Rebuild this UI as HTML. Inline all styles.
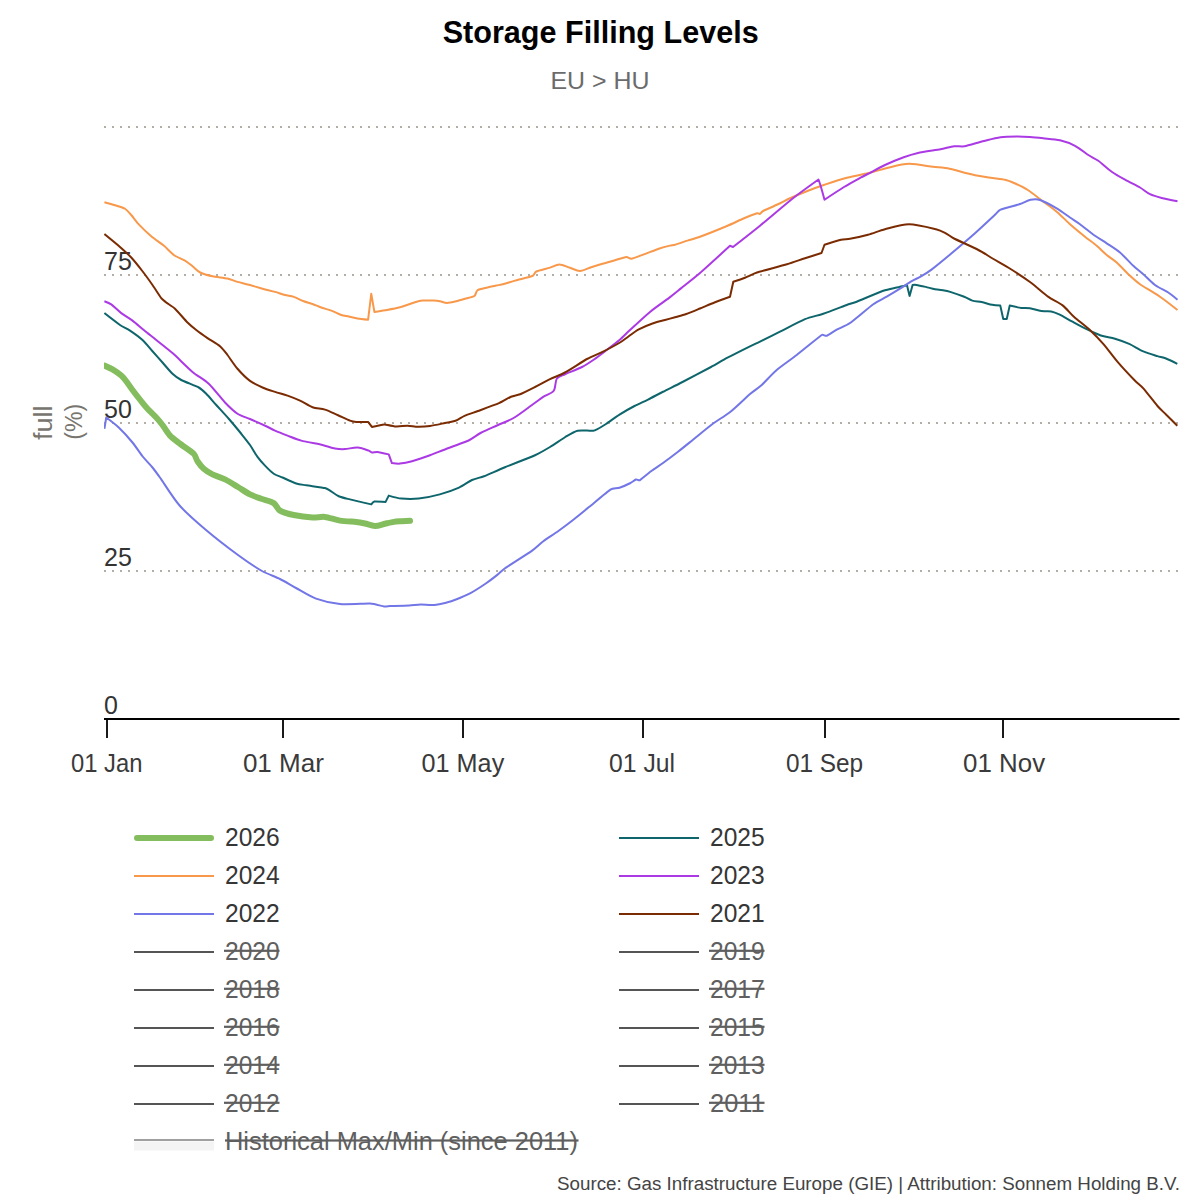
<!DOCTYPE html>
<html><head><meta charset="utf-8"><title>Storage Filling Levels</title>
<style>
html,body{margin:0;padding:0;background:#fff;}
svg{display:block;}
text{font-family:"Liberation Sans", sans-serif;}
</style></head><body>
<svg width="1200" height="1200" viewBox="0 0 1200 1200">
<rect width="1200" height="1200" fill="#fff"/>

<text x="600.7" y="43.4" text-anchor="middle" font-size="32" font-weight="bold" fill="#000" textLength="316" lengthAdjust="spacingAndGlyphs">Storage Filling Levels</text>
<text x="600" y="89.3" text-anchor="middle" font-size="24" fill="#6b6b6b" textLength="99" lengthAdjust="spacingAndGlyphs">EU &gt; HU</text>
<line x1="104" y1="127" x2="1178" y2="127" stroke="#b3afa7" stroke-width="2" stroke-dasharray="2 6"/>
<line x1="104" y1="275" x2="1178" y2="275" stroke="#b3afa7" stroke-width="2" stroke-dasharray="2 6"/>
<line x1="104" y1="423" x2="1178" y2="423" stroke="#b3afa7" stroke-width="2" stroke-dasharray="2 6"/>
<line x1="104" y1="571" x2="1178" y2="571" stroke="#b3afa7" stroke-width="2" stroke-dasharray="2 6"/>
<text x="104" y="713.5" font-size="25" fill="#333">0</text>
<text x="104" y="565.75" font-size="25" fill="#333">25</text>
<text x="104" y="417.8" font-size="25" fill="#333">50</text>
<text x="104" y="270" font-size="25" fill="#333">75</text>
<g transform="translate(44,422.75) rotate(-90)"><text x="0" y="8" text-anchor="middle" font-size="25" fill="#77756e" textLength="34.5" lengthAdjust="spacingAndGlyphs">full</text></g>
<g transform="translate(74,421.75) rotate(-90)"><text x="0" y="7.5" text-anchor="middle" font-size="23" fill="#77756e" textLength="35.9" lengthAdjust="spacingAndGlyphs">(%)</text></g>
<defs><clipPath id="plotclip"><rect x="104" y="100" width="1075" height="620"/></clipPath></defs>
<g clip-path="url(#plotclip)">
<path d="M104.4,365.6 C104.40,365.60 110.19,368.03 112.5,369.4 C114.81,370.77 119.54,374.12 121.25,375.6 C122.96,377.08 124.86,379.47 126.25,381.25 C127.64,383.03 130.56,387.42 132.5,390 C134.44,392.58 139.42,398.96 141.25,401.25 C143.08,403.54 145.51,406.60 147.5,408.75 C149.49,410.90 154.26,415.35 156.25,417.5 C158.24,419.65 160.73,422.67 162.5,425 C164.27,427.33 167.36,432.77 170,435.6 C172.64,438.43 176.92,441.40 180,443.75 C183.08,446.10 191.97,451.97 193.75,453.75 C195.53,455.53 196.10,459.16 197.5,461.25 C198.90,463.34 201.55,466.82 203.75,468.75 C205.95,470.68 209.71,473.00 212.5,474.4 C215.29,475.80 221.38,477.61 225,479.4 C228.62,481.19 234.37,484.82 238,487 C241.63,489.18 246.77,492.77 250,494.4 C253.23,496.03 257.85,497.51 261.25,498.75 C264.65,499.99 271.27,501.54 273.75,503.1 C276.23,504.66 277.48,509.10 280,510.6 C282.52,512.10 289.51,514.10 293.75,515 C297.99,515.90 308.75,517.27 312.5,517.5 C316.25,517.73 321.27,516.48 325,516.9 C328.73,517.32 335.42,519.87 340,520.6 C344.58,521.33 353.60,521.59 356.25,521.9 C358.90,522.21 362.39,522.93 365,523.5 C367.61,524.07 371.93,525.96 375,526 C378.07,526.04 382.38,524.32 385,523.75 C387.62,523.18 391.89,522.20 393.75,521.9 C395.61,521.60 398.12,521.43 400,521.3 C401.88,521.17 410.00,520.80 410,520.8" fill="none" stroke="#84bd5e" stroke-width="6" stroke-linejoin="round" stroke-linecap="round"/>
<path d="M104.4,313.1 C104.40,313.10 117.16,323.06 120,325 C122.84,326.94 127.14,328.69 130,330.6 C132.86,332.51 139.17,336.95 142.5,340 C145.83,343.05 149.50,347.88 152.5,351.25 C155.50,354.62 159.50,359.12 162.5,362.5 C165.50,365.88 170.14,371.55 172.5,373.75 C174.86,375.95 178.39,378.50 181.25,380 C184.11,381.50 196.18,386.09 198.75,387.5 C201.32,388.91 204.18,391.68 206.25,393.75 C208.32,395.82 213.23,401.64 216.25,405 C219.27,408.36 225.09,414.54 228.75,418.75 C232.41,422.96 238.56,430.43 241.25,433.75 C243.94,437.07 247.58,441.55 250,445 C252.42,448.45 255.47,454.11 257.5,456.9 C259.53,459.69 262.61,463.12 265,465.6 C267.39,468.08 271.39,472.14 273.75,473.75 C276.11,475.36 279.88,476.36 282.5,477.5 C285.12,478.64 293.35,482.56 296.25,483.5 C299.15,484.44 303.24,484.77 306.25,485.25 C309.26,485.73 323.36,487.73 325,488.1 C326.64,488.47 328.56,489.74 330,490.6 C331.44,491.46 335.89,494.99 338.75,496.25 C341.61,497.51 346.60,498.55 350,499.4 C353.40,500.25 371.25,504.40 371.25,504.4 C371.25,504.40 373.13,501.72 374.4,501.5 C375.67,501.28 385.60,501.90 385.6,501.9 C385.60,501.90 388.75,495.60 388.75,495.6 C388.75,495.60 397.59,498.21 401.5,498.6 C405.41,498.99 413.61,499.16 418.75,498.6 C423.89,498.04 433.91,496.01 439.8,494.4 C445.69,492.79 454.88,489.44 459,487.6 C463.12,485.76 468.57,481.56 472,480 C475.43,478.44 480.48,477.61 484,476.25 C487.52,474.89 498.66,469.86 505,467.25 C511.34,464.64 530.32,457.36 535,455.25 C539.68,453.14 545.60,449.64 550,447 C554.40,444.36 561.36,439.40 565,437.25 C568.64,435.10 574.02,431.67 577.5,430.75 C580.98,429.83 587.92,430.79 589.5,430.75 C591.08,430.71 593.29,430.90 594.75,430.3 C596.21,429.70 602.74,426.08 606,424 C609.26,421.92 615.32,417.19 619.5,414.55 C623.68,411.91 630.53,408.09 634.5,406 C638.47,403.91 643.99,401.56 648,399.55 C652.01,397.54 658.48,394.05 663,391.75 C667.52,389.45 676.69,385.00 682.5,382 C688.31,379.00 706.00,369.70 711,367 C716.00,364.30 722.48,360.36 727.5,357.7 C732.52,355.04 747.04,347.76 750,346.3 C752.96,344.84 757.03,343.15 760,341.7 C762.97,340.25 774.00,334.70 780,331.7 C786.00,328.70 799.71,321.40 805,319.2 C810.29,317.00 817.87,315.55 823.3,313.7 C828.73,311.85 843.73,306.07 846.7,305 C849.67,303.93 853.75,302.84 856.7,301.7 C859.65,300.56 879.40,292.19 883.3,290.8 C887.20,289.41 893.62,288.23 896.7,287.5 C899.78,286.77 907.00,285.20 907,285.2 C907.00,285.20 909.60,295.90 909.6,295.9 C909.60,295.90 912.60,284.90 912.6,284.9 C912.60,284.90 915.20,284.73 916.3,284.9 C917.40,285.07 922.90,286.25 925.7,286.9 C928.50,287.55 932.24,288.73 935,289.25 C937.76,289.77 942.50,290.09 944.3,290.4 C946.10,290.71 948.46,291.34 950.2,291.9 C951.94,292.46 961.70,295.82 964.2,296.8 C966.70,297.78 969.73,299.82 972.3,300.6 C974.87,301.38 978.91,301.51 981.7,302.1 C984.49,302.69 989.80,304.35 992.2,304.8 C994.60,305.25 1000.30,305.60 1000.3,305.6 C1000.30,305.60 1003.25,319.00 1003.25,319 C1003.25,319.00 1006.75,319.00 1006.75,319 C1006.75,319.00 1009.70,305.60 1009.7,305.6 C1009.70,305.60 1018.71,307.56 1021.3,307.9 C1023.89,308.24 1027.42,307.89 1030,308.3 C1032.58,308.71 1038.34,310.67 1041.3,311.1 C1044.26,311.53 1048.57,310.89 1051.25,311.4 C1053.93,311.91 1057.30,313.41 1059.75,314.6 C1062.20,315.79 1068.65,319.61 1072.5,321.7 C1076.35,323.79 1082.54,327.18 1086.7,329.2 C1090.86,331.22 1096.66,334.06 1100.8,335.45 C1104.94,336.84 1110.81,337.45 1115,338.7 C1119.19,339.95 1125.06,342.04 1129.2,343.9 C1133.34,345.76 1139.18,349.68 1143.3,351.45 C1147.42,353.22 1154.97,355.31 1157.5,356.1 C1160.03,356.89 1163.53,357.54 1166,358.5 C1168.47,359.46 1177.30,363.80 1177.3,363.8" fill="none" stroke="#0e666c" stroke-width="2" stroke-linejoin="round" stroke-linecap="butt"/>
<path d="M104.4,202.25 C104.40,202.25 111.97,204.29 115,205.25 C118.03,206.21 122.73,207.39 125,208.75 C127.27,210.11 129.50,213.01 131.25,215 C133.00,216.99 136.28,221.77 138.75,224.4 C141.22,227.03 147.68,233.22 151.25,236.25 C154.82,239.28 160.59,242.96 163.75,245.6 C166.91,248.24 170.67,252.83 173.75,255 C176.83,257.17 182.58,259.15 185,260.6 C187.42,262.05 190.28,264.52 192.5,266.25 C194.72,267.98 197.81,271.36 200.6,272.75 C203.39,274.14 208.86,275.47 212.5,276.25 C216.14,277.03 224.41,277.80 227.5,278.5 C230.59,279.20 234.46,281.02 237.5,281.9 C240.54,282.78 246.27,283.98 250,285 C253.73,286.02 258.77,287.72 262.5,288.75 C266.23,289.78 271.97,291.06 275,291.9 C278.03,292.74 282.40,294.31 285,295 C287.60,295.69 291.20,296.05 293.75,296.9 C296.30,297.75 301.18,300.28 303.75,301.25 C306.32,302.22 309.91,303.07 312.5,304 C315.09,304.93 318.58,306.56 321.25,307.5 C323.92,308.44 328.31,309.50 331.25,310.6 C334.19,311.70 339.08,314.27 341.25,315 C343.42,315.73 346.51,316.02 348.75,316.5 C350.99,316.98 354.84,318.05 357.5,318.5 C360.16,318.95 368.10,319.75 368.1,319.75 C368.10,319.75 371.25,293.75 371.25,293.75 C371.25,293.75 374.40,311.90 374.4,311.9 C374.40,311.90 381.83,310.83 385,310.25 C388.17,309.67 395.57,308.43 400,307.25 C404.43,306.07 412.79,302.90 415,302.25 C417.21,301.60 420.21,300.80 422.5,300.6 C424.79,300.40 431.87,300.53 433.75,300.6 C435.63,300.67 438.14,300.93 440,301.25 C441.86,301.57 444.77,302.90 446.9,302.9 C449.03,302.90 453.59,301.86 456.25,301.25 C458.91,300.64 462.38,299.51 465,298.75 C467.62,297.99 472.78,297.10 474.4,296 C476.02,294.90 475.86,291.32 477.5,290.25 C479.14,289.18 484.89,288.15 487.5,287.5 C490.11,286.85 494.00,286.08 496.25,285.6 C498.50,285.12 501.53,284.59 503.75,284 C505.97,283.41 511.60,281.55 515,280.6 C518.40,279.65 530.88,276.69 532.5,276 C534.12,275.31 534.67,272.26 536.25,271.5 C537.83,270.74 547.15,268.47 550,267.6 C552.85,266.73 556.42,264.38 559.4,264.4 C562.38,264.42 567.00,266.79 570,267.75 C573.00,268.71 576.85,271.07 580,271 C583.15,270.93 587.89,268.33 591.25,267.25 C594.61,266.17 599.52,264.63 602.5,263.75 C605.48,262.87 609.51,261.86 612.5,261 C615.49,260.14 624.66,257.09 626.25,256.9 C627.84,256.71 629.67,258.98 631.25,258.75 C632.83,258.52 640.02,255.76 643.75,254.4 C647.48,253.04 655.43,249.86 658.75,248.75 C662.07,247.64 668.52,245.96 670,245.6 C671.48,245.24 673.54,245.17 675,244.75 C676.46,244.33 683.76,241.80 687.5,240.6 C691.24,239.40 696.32,238.11 700,236.75 C703.68,235.39 721.99,228.10 727,226 C732.01,223.90 739.50,220.20 743.5,218.5 C747.50,216.80 756.10,213.49 757,213.25 C757.90,213.01 760.00,214.00 760,214 C760.00,214.00 761.88,211.61 763,211 C764.12,210.39 774.36,205.97 778,204.25 C781.64,202.53 786.33,199.90 790,198.25 C793.67,196.60 803.10,192.67 808,190.75 C812.90,188.83 819.51,186.42 824.5,184.75 C829.49,183.08 840.18,179.49 847,177.7 C853.82,175.91 864.55,174.13 870,172.8 C875.45,171.47 882.53,168.96 888,167.7 C893.47,166.44 902.59,163.93 909,163.8 C915.41,163.67 928.05,166.20 933,166.8 C937.95,167.40 944.61,167.77 949.5,168.75 C954.39,169.73 967.26,173.67 975,175.2 C982.74,176.73 1002.18,179.14 1005,179.7 C1007.82,180.26 1011.37,181.83 1014,183 C1016.63,184.17 1023.67,187.39 1027.5,189.75 C1031.33,192.11 1038.35,197.88 1039.5,198.75 C1040.65,199.62 1042.15,200.83 1043.3,201.7 C1044.45,202.57 1052.86,208.47 1056.7,211.7 C1060.54,214.93 1065.90,220.57 1070,224.2 C1074.10,227.83 1081.54,233.90 1085,236.7 C1088.46,239.50 1093.58,243.17 1096.7,245.8 C1099.82,248.43 1103.82,252.60 1106.7,255 C1109.58,257.40 1113.90,260.00 1116.7,262.5 C1119.50,265.00 1127.13,273.13 1130,275.8 C1132.87,278.47 1136.79,281.96 1140,284.2 C1143.21,286.44 1154.57,292.96 1160,296.7 C1165.43,300.44 1177.50,310.00 1177.5,310" fill="none" stroke="#f8984a" stroke-width="2" stroke-linejoin="round" stroke-linecap="butt"/>
<path d="M104.4,301.25 C104.40,301.25 109.40,303.10 111.25,304.4 C113.10,305.70 118.09,310.69 121.25,313.1 C124.41,315.51 129.26,318.16 132.5,320.6 C135.74,323.04 140.34,327.22 143.75,330 C147.16,332.78 152.51,336.99 156.25,340 C159.99,343.01 167.80,348.96 172.5,353.1 C177.20,357.24 187.89,368.00 192.5,371.9 C197.11,375.80 204.36,379.61 208.75,383.75 C213.14,387.89 221.51,398.86 225,402.5 C228.49,406.14 234.11,411.51 237.5,413.75 C240.89,415.99 246.27,417.38 250,419 C253.73,420.62 263.59,425.02 266.25,426.25 C268.91,427.48 272.32,429.42 275,430.6 C277.68,431.78 283.73,434.16 287.5,435.6 C291.27,437.04 297.01,439.46 301.25,440.6 C305.49,441.74 318.71,444.11 322.5,445 C326.29,445.89 332.04,447.96 335,448.5 C337.96,449.04 342.00,449.23 345,449.1 C348.00,448.97 354.01,447.28 357.5,447.5 C360.99,447.72 367.71,450.24 368.75,450.6 C369.79,450.96 370.81,452.34 371.9,452.5 C372.99,452.66 375.82,451.71 377.5,451.9 C379.18,452.09 388.75,454.40 388.75,454.4 C388.75,454.40 391.90,463.10 391.9,463.1 C391.90,463.10 397.58,463.82 400,463.6 C402.42,463.38 408.47,462.23 412,461.25 C415.53,460.27 425.91,456.71 430,455.25 C434.09,453.79 439.44,451.56 443.5,450 C447.56,448.44 465.14,442.02 469,440.25 C472.86,438.48 477.24,434.73 481,432.75 C484.76,430.77 492.55,427.50 497.5,425.25 C502.45,423.00 509.31,420.50 514,417.75 C518.69,415.00 528.40,407.56 532,405 C535.60,402.44 541.17,398.31 544,396.45 C546.83,394.59 551.77,393.50 553.75,390.75 C555.73,388.00 555.16,381.08 556.75,378.75 C558.34,376.42 562.44,375.44 565,374.25 C567.56,373.06 578.22,368.92 582,367 C585.78,365.08 590.50,361.91 594,359.5 C597.50,357.09 602.43,353.23 606,350.5 C609.57,347.77 616.19,342.83 619.5,340 C622.81,337.17 626.80,332.95 630,330 C633.20,327.05 644.61,316.34 650,311.9 C655.39,307.46 664.93,301.01 668.75,298.1 C672.57,295.19 677.51,291.11 681.25,288.1 C684.99,285.09 694.54,277.73 700,273 C705.46,268.27 730.00,245.80 730,245.8 C730.00,245.80 733.00,247.00 733,247 C733.00,247.00 751.99,232.21 760,225.7 C768.01,219.19 785.55,204.14 793,198.25 C800.45,192.36 818.50,179.50 818.5,179.5 C818.50,179.50 820.14,184.20 820.75,186.25 C821.36,188.30 824.50,199.75 824.5,199.75 C824.50,199.75 839.15,189.97 844,187 C848.85,184.03 857.69,179.24 860.5,177.7 C863.31,176.16 867.15,174.28 870,172.8 C872.85,171.32 880.40,167.13 885,165 C889.60,162.87 898.58,159.11 903,157.5 C907.42,155.89 913.41,154.01 918,153 C922.59,151.99 936.42,150.01 940.5,149.25 C944.58,148.49 950.87,146.64 954,146.25 C957.13,145.86 961.40,146.79 964.5,146.25 C967.60,145.71 979.08,142.23 984,141 C988.92,139.77 995.59,137.92 1000.5,137.25 C1005.41,136.58 1013.10,136.53 1017,136.5 C1020.90,136.47 1026.11,136.73 1030,137 C1033.89,137.27 1039.32,137.86 1043.3,138.3 C1047.28,138.74 1055.34,139.20 1060,140.3 C1064.66,141.40 1070.75,143.59 1075,145.8 C1079.25,148.01 1085.38,153.12 1088.3,155 C1091.22,156.88 1095.48,158.79 1098.3,160.8 C1101.12,162.81 1107.90,169.01 1111.7,171.7 C1115.50,174.39 1120.93,177.43 1125,179.7 C1129.07,181.97 1136.88,185.69 1140,187.5 C1143.12,189.31 1146.75,192.63 1150,194.2 C1153.25,195.77 1158.13,197.08 1161.7,198 C1165.27,198.92 1177.50,201.30 1177.5,201.3" fill="none" stroke="#ab3ae4" stroke-width="2" stroke-linejoin="round" stroke-linecap="butt"/>
<path d="M104.4,428.75 C104.40,428.75 106.25,417.50 106.25,417.5 C106.25,417.50 115.27,424.19 118.75,427.5 C122.23,430.81 129.25,438.57 132.5,442.5 C135.75,446.43 139.68,452.72 142.5,456.25 C145.32,459.78 149.71,464.06 152.5,467.5 C155.29,470.94 158.67,475.79 161.25,479.4 C163.83,483.01 173.53,498.69 180,506 C186.47,513.31 197.89,523.15 206,530 C214.11,536.85 231.02,549.89 238,555 C244.98,560.11 256.87,568.07 262,571 C267.13,573.93 275.07,576.54 280,579 C284.93,581.46 291.16,585.37 296,588 C300.84,590.63 309.62,596.28 316,598.6 C322.38,600.92 332.65,603.32 340,604 C347.35,604.68 365.72,603.37 370,603.6 C374.28,603.83 382.21,606.18 384,606.4 C385.79,606.62 388.20,606.16 390,606.1 C391.80,606.04 405.74,605.72 409.2,605.55 C412.66,605.38 417.24,604.68 420.7,604.6 C424.16,604.52 430.09,605.34 434.1,605 C438.11,604.66 445.14,602.88 447.5,602.3 C449.86,601.72 452.95,600.70 455.2,599.8 C457.45,598.90 466.08,595.46 470.5,593.1 C474.92,590.74 482.24,585.92 485.8,583.5 C489.36,581.08 494.91,576.81 497.3,574.9 C499.69,572.99 502.49,569.95 505,568.2 C507.51,566.45 528.12,553.48 531.8,550.9 C535.48,548.32 539.70,543.99 543.3,541.3 C546.90,538.61 554.15,534.06 558.7,530.8 C563.25,527.54 569.48,522.84 574,519.3 C578.52,515.76 584.71,510.55 589.3,506.8 C593.89,503.05 608.04,491.09 610.4,489.6 C612.76,488.11 616.85,488.61 619.5,487.75 C622.15,486.89 628.10,484.20 630,483.25 C631.90,482.30 634.90,479.84 636,479.5 C637.10,479.16 638.74,480.80 639.75,480.25 C640.76,479.70 647.53,473.83 651,471.25 C654.47,468.67 659.46,465.56 663,463 C666.54,460.44 673.55,455.20 678,451.75 C682.45,448.30 688.51,443.36 693,439.75 C697.49,436.14 707.26,427.92 712.5,424 C717.74,420.08 725.39,415.79 730.5,411.7 C735.61,407.61 746.64,396.88 750,394 C753.36,391.12 758.41,387.96 761.7,385 C764.99,382.04 771.87,374.14 776.7,370 C781.53,365.86 790.78,359.60 796.7,355 C802.62,350.40 820.42,335.82 821.7,335 C822.98,334.18 825.27,336.31 826.7,335.8 C828.13,335.29 833.62,331.39 836.7,329.7 C839.78,328.01 846.33,325.55 850,323 C853.67,320.45 869.56,306.88 873.3,304.2 C877.04,301.52 882.72,299.01 886.7,296.7 C890.68,294.39 896.45,290.92 900,288.7 C903.55,286.48 909.00,282.68 911.7,281.1 C914.40,279.52 918.30,277.97 921,276.4 C923.70,274.83 928.50,271.85 931.5,269.6 C934.50,267.35 944.16,259.46 949.5,255 C954.84,250.54 969.03,238.52 975,233.25 C980.97,227.98 992.70,216.91 994.5,215.25 C996.30,213.59 998.26,210.69 1000.5,209.7 C1002.74,208.71 1016.78,205.06 1020,204 C1023.22,202.94 1027.70,200.36 1030.5,199.8 C1033.30,199.24 1037.29,199.12 1040,200 C1042.71,200.88 1052.51,205.86 1056.7,208.3 C1060.89,210.74 1067.02,215.46 1070,217.5 C1072.98,219.54 1077.09,222.07 1080,224.2 C1082.91,226.33 1091.61,233.37 1095,235.8 C1098.39,238.23 1103.23,240.98 1106.7,243.3 C1110.17,245.62 1116.30,249.37 1120,252.5 C1123.70,255.63 1130.43,263.13 1133.3,265.8 C1136.17,268.47 1140.37,271.60 1143.3,274.2 C1146.23,276.80 1151.30,282.29 1155,285 C1158.70,287.71 1165.37,290.58 1168.3,292.5 C1171.23,294.42 1177.50,299.70 1177.5,299.7" fill="none" stroke="#7276e6" stroke-width="2" stroke-linejoin="round" stroke-linecap="butt"/>
<path d="M104.4,234 C104.40,234.00 116.51,243.85 120,246.9 C123.49,249.95 128.10,254.09 131.25,257.5 C134.40,260.91 139.38,267.21 142.5,271.25 C145.62,275.29 149.79,281.13 152.5,285 C155.21,288.87 160.02,296.53 161.25,298.1 C162.48,299.67 164.67,301.28 166.25,302.5 C167.83,303.72 172.65,306.54 175,308.75 C177.35,310.96 185.06,320.06 187.5,322.5 C189.94,324.94 193.52,327.87 196.25,330 C198.98,332.13 204.07,335.75 207.5,338.1 C210.93,340.45 217.36,344.02 220,346.25 C222.64,348.48 225.38,352.27 227.5,355 C229.62,357.73 234.15,364.90 237.5,368.75 C240.85,372.60 246.61,378.36 250,380.9 C253.39,383.44 258.86,385.90 262.5,387.5 C266.14,389.10 271.28,390.69 275,391.9 C278.72,393.11 283.81,394.31 287.5,395.6 C291.19,396.89 296.34,398.90 300,400.6 C303.66,402.30 308.91,405.91 312.5,407.2 C316.09,408.49 321.35,408.46 325,409.6 C328.65,410.74 333.76,413.35 337.5,415 C341.24,416.65 348.20,419.94 350,420.6 C351.80,421.26 354.34,421.76 356.25,421.9 C358.16,422.04 368.10,421.90 368.1,421.9 C368.10,421.90 371.90,426.90 371.9,426.9 C371.90,426.90 380.13,425.21 381.25,425 C382.37,424.79 383.87,424.29 385,424.4 C386.13,424.51 392.87,426.30 396.25,426.5 C399.63,426.70 404.33,425.66 407.5,425.7 C410.67,425.74 414.83,426.71 418,426.75 C421.17,426.79 426.43,426.50 430,426 C433.57,425.50 441.84,423.65 445,423 C448.16,422.35 452.61,421.82 455.5,420.75 C458.39,419.68 461.67,417.03 464.5,415.8 C467.33,414.57 473.96,412.47 478,411 C482.04,409.53 495.25,404.82 499,403.2 C502.75,401.58 508.42,397.84 511,396.75 C513.58,395.66 517.41,395.35 520,394.3 C522.59,393.25 530.53,389.25 535,387 C539.47,384.75 545.56,381.34 550,379.2 C554.44,377.06 560.67,374.86 565,372.5 C569.33,370.14 583.16,361.13 587.5,358.75 C591.84,356.37 598.08,354.11 602.5,351.9 C606.92,349.69 617.23,344.15 620,342.5 C622.77,340.85 626.11,338.10 628.75,336.25 C631.39,334.40 635.55,331.12 638.75,329.4 C641.95,327.68 648.83,324.81 652.5,323.5 C656.17,322.19 662.00,320.83 665,320 C668.00,319.17 672.01,318.10 675,317.25 C677.99,316.40 682.93,315.16 686.25,314 C689.57,312.84 695.89,310.19 700,308.5 C704.11,306.81 710.54,303.94 715,302.2 C719.46,300.46 730.00,296.80 730,296.8 C730.00,296.80 733.30,281.80 733.3,281.8 C733.30,281.80 741.54,279.11 745,277.75 C748.46,276.39 753.26,273.70 757,272.5 C760.74,271.30 781.54,265.87 787,264.25 C792.46,262.63 800.06,259.86 805,258.25 C809.94,256.64 821.50,253.00 821.5,253 C821.50,253.00 824.50,244.75 824.5,244.75 C824.50,244.75 838.35,240.42 841,239.8 C843.65,239.18 847.33,239.25 850,238.75 C852.67,238.25 862.83,236.11 868,234.7 C873.17,233.29 879.81,230.52 885,229.2 C890.19,227.88 901.65,224.25 909,224.25 C916.35,224.25 933.17,228.53 936,229.2 C938.83,229.87 942.42,231.47 945,232.8 C947.58,234.13 951.16,237.04 954,238.5 C956.84,239.96 973.34,247.33 978,249.75 C982.66,252.17 988.48,256.08 993,258.75 C997.52,261.42 1005.71,265.92 1011,269.25 C1016.29,272.58 1024.48,277.92 1030,282 C1035.52,286.08 1044.37,294.00 1048.4,296.9 C1052.43,299.80 1058.81,302.45 1062.6,305.4 C1066.39,308.35 1070.33,313.53 1073.9,316.75 C1077.47,319.97 1086.81,327.10 1090.9,330.9 C1094.99,334.70 1100.06,340.17 1103.7,344.4 C1107.34,348.63 1113.37,356.96 1117.8,362.1 C1122.23,367.24 1132.39,378.02 1134.8,380.5 C1137.21,382.98 1141.00,385.71 1143.3,388.3 C1145.60,390.89 1155.14,403.27 1157.5,406 C1159.86,408.73 1163.45,411.95 1166,414.5 C1168.55,417.05 1177.30,425.80 1177.3,425.8" fill="none" stroke="#7b2b02" stroke-width="2" stroke-linejoin="round" stroke-linecap="butt"/>
</g>
<rect x="104" y="718" width="1075.5" height="2" fill="#000"/>
<rect x="106" y="720" width="2" height="18" fill="#1a1a1a"/>
<rect x="282" y="720" width="2" height="18" fill="#1a1a1a"/>
<rect x="462" y="720" width="2" height="18" fill="#1a1a1a"/>
<rect x="642" y="720" width="2" height="18" fill="#1a1a1a"/>
<rect x="824" y="720" width="2" height="18" fill="#1a1a1a"/>
<rect x="1002" y="720" width="2" height="18" fill="#1a1a1a"/>
<text x="106.75" y="772" text-anchor="middle" font-size="25" fill="#3a3a3a" textLength="71.5" lengthAdjust="spacingAndGlyphs">01 Jan</text>
<text x="283.4" y="772" text-anchor="middle" font-size="25" fill="#3a3a3a" textLength="81" lengthAdjust="spacingAndGlyphs">01 Mar</text>
<text x="462.9" y="772" text-anchor="middle" font-size="25" fill="#3a3a3a" textLength="82.7" lengthAdjust="spacingAndGlyphs">01 May</text>
<text x="642.1" y="772" text-anchor="middle" font-size="25" fill="#3a3a3a" textLength="66" lengthAdjust="spacingAndGlyphs">01 Jul</text>
<text x="824.5" y="772" text-anchor="middle" font-size="25" fill="#3a3a3a" textLength="77.25" lengthAdjust="spacingAndGlyphs">01 Sep</text>
<text x="1004.1" y="772" text-anchor="middle" font-size="25" fill="#3a3a3a" textLength="82" lengthAdjust="spacingAndGlyphs">01 Nov</text>
<line x1="137" y1="838" x2="211" y2="838" stroke="#84bd5e" stroke-width="6" stroke-linecap="round"/>
<text x="225" y="846" font-size="25" fill="#363636" textLength="54.7" lengthAdjust="spacingAndGlyphs">2026</text>
<rect x="134" y="875" width="80" height="2" fill="#f8984a"/>
<text x="225" y="884" font-size="25" fill="#363636" textLength="54.7" lengthAdjust="spacingAndGlyphs">2024</text>
<rect x="134" y="913" width="80" height="2" fill="#7276e6"/>
<text x="225" y="922" font-size="25" fill="#363636" textLength="54.7" lengthAdjust="spacingAndGlyphs">2022</text>
<rect x="134" y="951" width="80" height="2" fill="#555555"/>
<text x="225" y="960" font-size="25" fill="#5f5f5f" textLength="54.7" lengthAdjust="spacingAndGlyphs">2020</text>
<rect x="224" y="949.7" width="55.5" height="2.2" fill="#5f5f5f"/>
<rect x="134" y="989" width="80" height="2" fill="#555555"/>
<text x="225" y="998" font-size="25" fill="#5f5f5f" textLength="54.7" lengthAdjust="spacingAndGlyphs">2018</text>
<rect x="224" y="987.7" width="55.5" height="2.2" fill="#5f5f5f"/>
<rect x="134" y="1027" width="80" height="2" fill="#555555"/>
<text x="225" y="1036" font-size="25" fill="#5f5f5f" textLength="54.7" lengthAdjust="spacingAndGlyphs">2016</text>
<rect x="224" y="1025.7" width="55.5" height="2.2" fill="#5f5f5f"/>
<rect x="134" y="1065" width="80" height="2" fill="#555555"/>
<text x="225" y="1074" font-size="25" fill="#5f5f5f" textLength="54.7" lengthAdjust="spacingAndGlyphs">2014</text>
<rect x="224" y="1063.7" width="55.5" height="2.2" fill="#5f5f5f"/>
<rect x="134" y="1103" width="80" height="2" fill="#555555"/>
<text x="225" y="1112" font-size="25" fill="#5f5f5f" textLength="54.7" lengthAdjust="spacingAndGlyphs">2012</text>
<rect x="224" y="1101.7" width="55.5" height="2.2" fill="#5f5f5f"/>
<rect x="619" y="837" width="80" height="2" fill="#0e666c"/>
<text x="710" y="846" font-size="25" fill="#363636" textLength="54.7" lengthAdjust="spacingAndGlyphs">2025</text>
<rect x="619" y="875" width="80" height="2" fill="#ab3ae4"/>
<text x="710" y="884" font-size="25" fill="#363636" textLength="54.7" lengthAdjust="spacingAndGlyphs">2023</text>
<rect x="619" y="913" width="80" height="2" fill="#7b2b02"/>
<text x="710" y="922" font-size="25" fill="#363636" textLength="54.7" lengthAdjust="spacingAndGlyphs">2021</text>
<rect x="619" y="951" width="80" height="2" fill="#555555"/>
<text x="710" y="960" font-size="25" fill="#5f5f5f" textLength="54.7" lengthAdjust="spacingAndGlyphs">2019</text>
<rect x="709" y="949.7" width="55.5" height="2.2" fill="#5f5f5f"/>
<rect x="619" y="989" width="80" height="2" fill="#555555"/>
<text x="710" y="998" font-size="25" fill="#5f5f5f" textLength="54.7" lengthAdjust="spacingAndGlyphs">2017</text>
<rect x="709" y="987.7" width="55.5" height="2.2" fill="#5f5f5f"/>
<rect x="619" y="1027" width="80" height="2" fill="#555555"/>
<text x="710" y="1036" font-size="25" fill="#5f5f5f" textLength="54.7" lengthAdjust="spacingAndGlyphs">2015</text>
<rect x="709" y="1025.7" width="55.5" height="2.2" fill="#5f5f5f"/>
<rect x="619" y="1065" width="80" height="2" fill="#555555"/>
<text x="710" y="1074" font-size="25" fill="#5f5f5f" textLength="54.7" lengthAdjust="spacingAndGlyphs">2013</text>
<rect x="709" y="1063.7" width="55.5" height="2.2" fill="#5f5f5f"/>
<rect x="619" y="1103" width="80" height="2" fill="#555555"/>
<text x="710" y="1112" font-size="25" fill="#5f5f5f" textLength="54.7" lengthAdjust="spacingAndGlyphs">2011</text>
<rect x="709" y="1101.7" width="55.5" height="2.2" fill="#5f5f5f"/>
<rect x="134" y="1141.5" width="80" height="9" fill="#f4f4f4"/>
<rect x="134" y="1139" width="80" height="2" fill="#a0a0a0"/>
<text x="225" y="1150" font-size="25" fill="#5f5f5f" textLength="353" lengthAdjust="spacingAndGlyphs">Historical Max/Min (since 2011)</text>
<rect x="225" y="1139.4" width="353.5" height="2.2" fill="#5f5f5f"/>
<text x="557" y="1190" font-size="18" fill="#444" textLength="623" lengthAdjust="spacingAndGlyphs">Source: Gas Infrastructure Europe (GIE) | Attribution: Sonnem Holding B.V.</text>
</svg>
</body></html>
